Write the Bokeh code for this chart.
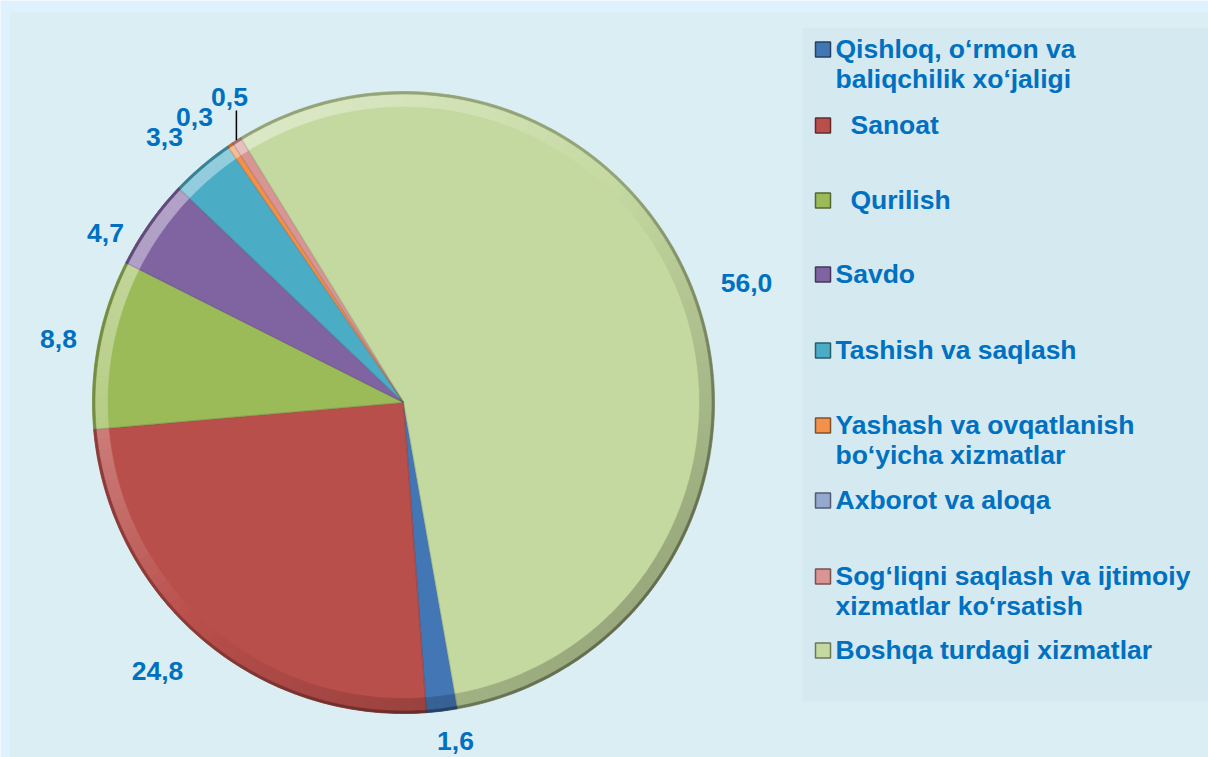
import numpy as np
from bokeh.plotting import figure
from bokeh.models import Range1d, ColumnDataSource
from bokeh.embed import file_html
from bokeh.resources import INLINE
from bokeh.core.properties import value

# ---------------- data ----------------
categories = [
    "Qishloq, o‘rmon va baliqchilik xo‘jaligi",
    "Sanoat",
    "Qurilish",
    "Savdo",
    "Tashish va saqlash",
    "Yashash va ovqatlanish bo‘yicha xizmatlar",
    "Axborot va aloqa",
    "Sog‘liqni saqlash va ijtimoiy xizmatlar ko‘rsatish",
    "Boshqa turdagi xizmatlar",
]
legend_lines = [
    ["Qishloq, o‘rmon va", "baliqchilik xo‘jaligi"],
    ["Sanoat"],
    ["Qurilish"],
    ["Savdo"],
    ["Tashish va saqlash"],
    ["Yashash va ovqatlanish", "bo‘yicha xizmatlar"],
    ["Axborot va aloqa"],
    ["Sog‘liqni saqlash va ijtimoiy", "xizmatlar ko‘rsatish"],
    ["Boshqa turdagi xizmatlar"],
]
shares = [1.6, 24.8, 8.8, 4.7, 3.3, 0.3, 0.0, 0.5, 56.0]
value_labels = ["1,6", "24,8", "8,8", "4,7", "3,3", "0,3", "", "0,5", "56,0"]

# ---------------- styles / layout ----------------
colors = ["#4376b4", "#b94f4b", "#9bbb59", "#8064a2", "#4bacc6",
          "#f2914a", "#95a9cf", "#d99594", "#c4d9a0"]
FIRST_ANGLE = 170.0          # degrees, clockwise from 12 o'clock
CX, CY, R = 403.0, 402.0, 311.0
BEVEL = 15.0
OUTER_BG = "#dff1fd"
INNER_BG = "#dbeef4"
LEGEND_BG = "#d5e9f1"
TXT = "#0070c0"
FONT = value("Liberation Sans")

# label anchor positions (page pixels)
label_pos = [(455, 740), (157, 670), (58, 338), (105, 232), (164, 136),
             (194, 116), None, (229, 96), (746, 282)]
legend_row_y = [48, 124, 199, 273, 349, 424, 499, 575, 649]
legend_text_x = [835, 850, 850, 835, 835, 835, 835, 835, 835]
LINE_GAP = 30.5

W, H = 1208, 757
p = figure(width=W, height=H, output_backend="svg", toolbar_location=None,
           x_axis_type=None, y_axis_type=None,
           x_range=Range1d(0, W), y_range=Range1d(-H, 0),
           min_border=0, min_border_left=0, min_border_top=0,
           min_border_right=0, min_border_bottom=0)
p.grid.visible = False
p.outline_line_color = None
p.border_fill_color = OUTER_BG
p.background_fill_color = OUTER_BG

# chart area and legend panel
p.quad(left=[9], right=[W], top=[-12], bottom=[-H],
       fill_color=INNER_BG, line_color=None)
p.quad(left=[802], right=[W], top=[-27], bottom=[-701],
       fill_color=LEGEND_BG, line_color=None)


def mix(hexc, target, t):
    c = np.array([int(hexc[i:i + 2], 16) for i in (1, 3, 5)], float)
    tg = np.array([255, 255, 255] if target == "w" else [0, 0, 0], float)
    m = c + (tg - c) * t
    return "#%02x%02x%02x" % tuple(int(round(v)) for v in m)


# ---------------- pie ----------------
vals = np.array(shares, float)
cum = np.concatenate([[0], np.cumsum(vals)]) / vals.sum() * 360.0
start_cw = FIRST_ANGLE + cum[:-1]
end_cw = FIRST_ANGLE + cum[1:]
nz = [i for i, v in enumerate(vals) if v > 0]

src = ColumnDataSource(dict(
    start=[np.radians(90 - start_cw[i]) for i in nz],
    end=[np.radians(90 - end_cw[i]) for i in nz],
    color=[colors[i] for i in nz], x=[CX] * len(nz), y=[-CY] * len(nz)))
p.wedge(x="x", y="y", radius=R, start_angle="start", end_angle="end",
        direction="clock", fill_color="color", line_color="color",
        line_width=0.5, source=src)

# bevel ring along the outer arc, shaded by light from upper-left
seg = dict(x=[], y=[], s=[], e=[], c=[], d=[])
for i in nz:
    n = max(1, int(np.ceil((end_cw[i] - start_cw[i]) / 2.0)))
    edges = np.linspace(start_cw[i], end_cw[i], n + 1)
    for a0, a1 in zip(edges[:-1], edges[1:]):
        phi = np.radians((a0 + a1) / 2)
        f = 0.707 * np.cos(phi) - 0.707 * np.sin(phi)
        c = mix(colors[i], "w", 0.40 * f) if f > 0 else mix(colors[i], "k", 0.22 * -f)
        seg["x"].append(CX); seg["y"].append(-CY)
        seg["s"].append(np.radians(90 - a0)); seg["e"].append(np.radians(90 - a1))
        seg["c"].append(c)
        seg["d"].append(mix(colors[i], "k", 0.25 + 0.25 * max(-f, 0)))
p.annular_wedge(x="x", y="y", inner_radius=R - BEVEL, outer_radius=R - 2,
                start_angle="s", end_angle="e", direction="clock",
                fill_color="c", line_color="c", line_width=0.6,
                source=ColumnDataSource(seg))
# dark outer rim
p.annular_wedge(x="x", y="y", inner_radius=R - 2.5, outer_radius=R,
                start_angle="s", end_angle="e", direction="clock",
                fill_color="d", line_color="d", line_width=0.6,
                source=ColumnDataSource(seg))

# radial edges with a subtle darker stroke
ex, ey = [], []
for i in nz:
    a = np.radians(start_cw[i])
    ex.append([CX, CX + R * np.sin(a)])
    ey.append([-CY, -(CY - R * np.cos(a))])
p.multi_line(ex, ey, line_color="#000000", line_alpha=0.12, line_width=1.5)

# ---------------- value labels ----------------
lx, ly, lt = [], [], []
for i, t in enumerate(value_labels):
    if not t or label_pos[i] is None:
        continue
    lx.append(label_pos[i][0]); ly.append(-label_pos[i][1]); lt.append(t)
p.text(lx, ly, text=lt, text_font=FONT, text_font_style="bold",
       text_font_size="26.5px", text_color=TXT,
       text_align="center", text_baseline="middle")

# leader line for the small "0,5" slice
k = value_labels.index("0,5")
mid = np.radians((start_cw[k] + end_cw[k]) / 2)
px, py = CX + R * np.sin(mid), CY - R * np.cos(mid)
p.line([px, px], [-py, -(label_pos[k][1] + 14)], line_color="black", line_width=1.5)

# ---------------- legend ----------------
mx, my, mc = [], [], []
tx, ty, tt = [], [], []
for i, lines in enumerate(legend_lines):
    mx.append(822.5); my.append(-(legend_row_y[i] + 1)); mc.append(colors[i])
    for j, line in enumerate(lines):
        tx.append(legend_text_x[i]); ty.append(-(legend_row_y[i] + j * LINE_GAP)); tt.append(line)
p.rect(mx, my, width=15, height=15, fill_color=mc,
       line_color=[mix(c, "k", 0.45) for c in mc], line_width=1.5)
p.text(tx, ty, text=tt, text_font=FONT, text_font_style="bold",
       text_font_size="26.5px", text_color=TXT,
       text_align="left", text_baseline="middle")

open("out.html", "w").write(file_html(p, INLINE, title="Pie chart"))
